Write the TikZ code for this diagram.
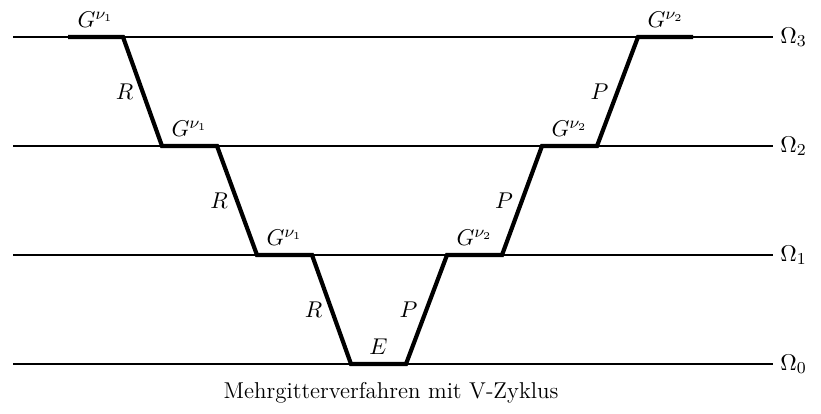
\documentclass[tikz,border=0pt]{standalone}
\usetikzlibrary{positioning}
\tikzset{
  gridline/.style={line width=0.8pt},
  vcycle/.style={line width=2pt,line join=miter},
}

\begin{document}
\begin{tikzpicture}[x=0.48pt,y=-0.48pt,every node/.style={font=\fontsize{11}{13}\selectfont}]
  \useasboundingbox (0,0) rectangle (821,413);
  % grid levels
  \foreach \y [count=\i from 0] in {364,255,146,37}{
    \coordinate (l\i) at (13,\y);
    \node[anchor=west] (om\i) at (773,\y) {$\Omega_{\i}$};
    \draw[gridline] (l\i) -- (om\i.west);
  }
  % corner points of the V-cycle
  \foreach \x/\y [count=\i from 0] in {68/37,123/37,162/146,217/146,257/255,312/255,351/364,406/364,447/255,502/255,542/146,597/146,638/37,693/37}{
    \coordinate (v\i) at (\x,\y);
  }
  \draw[vcycle] (v0) -- node[above] (s1) {$G^{\nu_1}$} (v1)
    -- node[left] (r1) {$R$} (v2)
    -- node[above] (s2) {$G^{\nu_1}$} (v3)
    -- node[left] (r2) {$R$} (v4)
    -- node[above] (s3) {$G^{\nu_1}$} (v5)
    -- node[left] (r3) {$R$} (v6)
    -- node[above] (e0) {$E$} (v7)
    -- node[left] (p1) {$P$} (v8)
    -- node[above] (t1) {$G^{\nu_2}$} (v9)
    -- node[left] (p2) {$P$} (v10)
    -- node[above] (t2) {$G^{\nu_2}$} (v11)
    -- node[left] (p3) {$P$} (v12)
    -- node[above] (t3) {$G^{\nu_2}$} (v13);
  \node (cap) at (391,393) {Mehrgitterverfahren mit V-Zyklus};
\end{tikzpicture}
\end{document}
